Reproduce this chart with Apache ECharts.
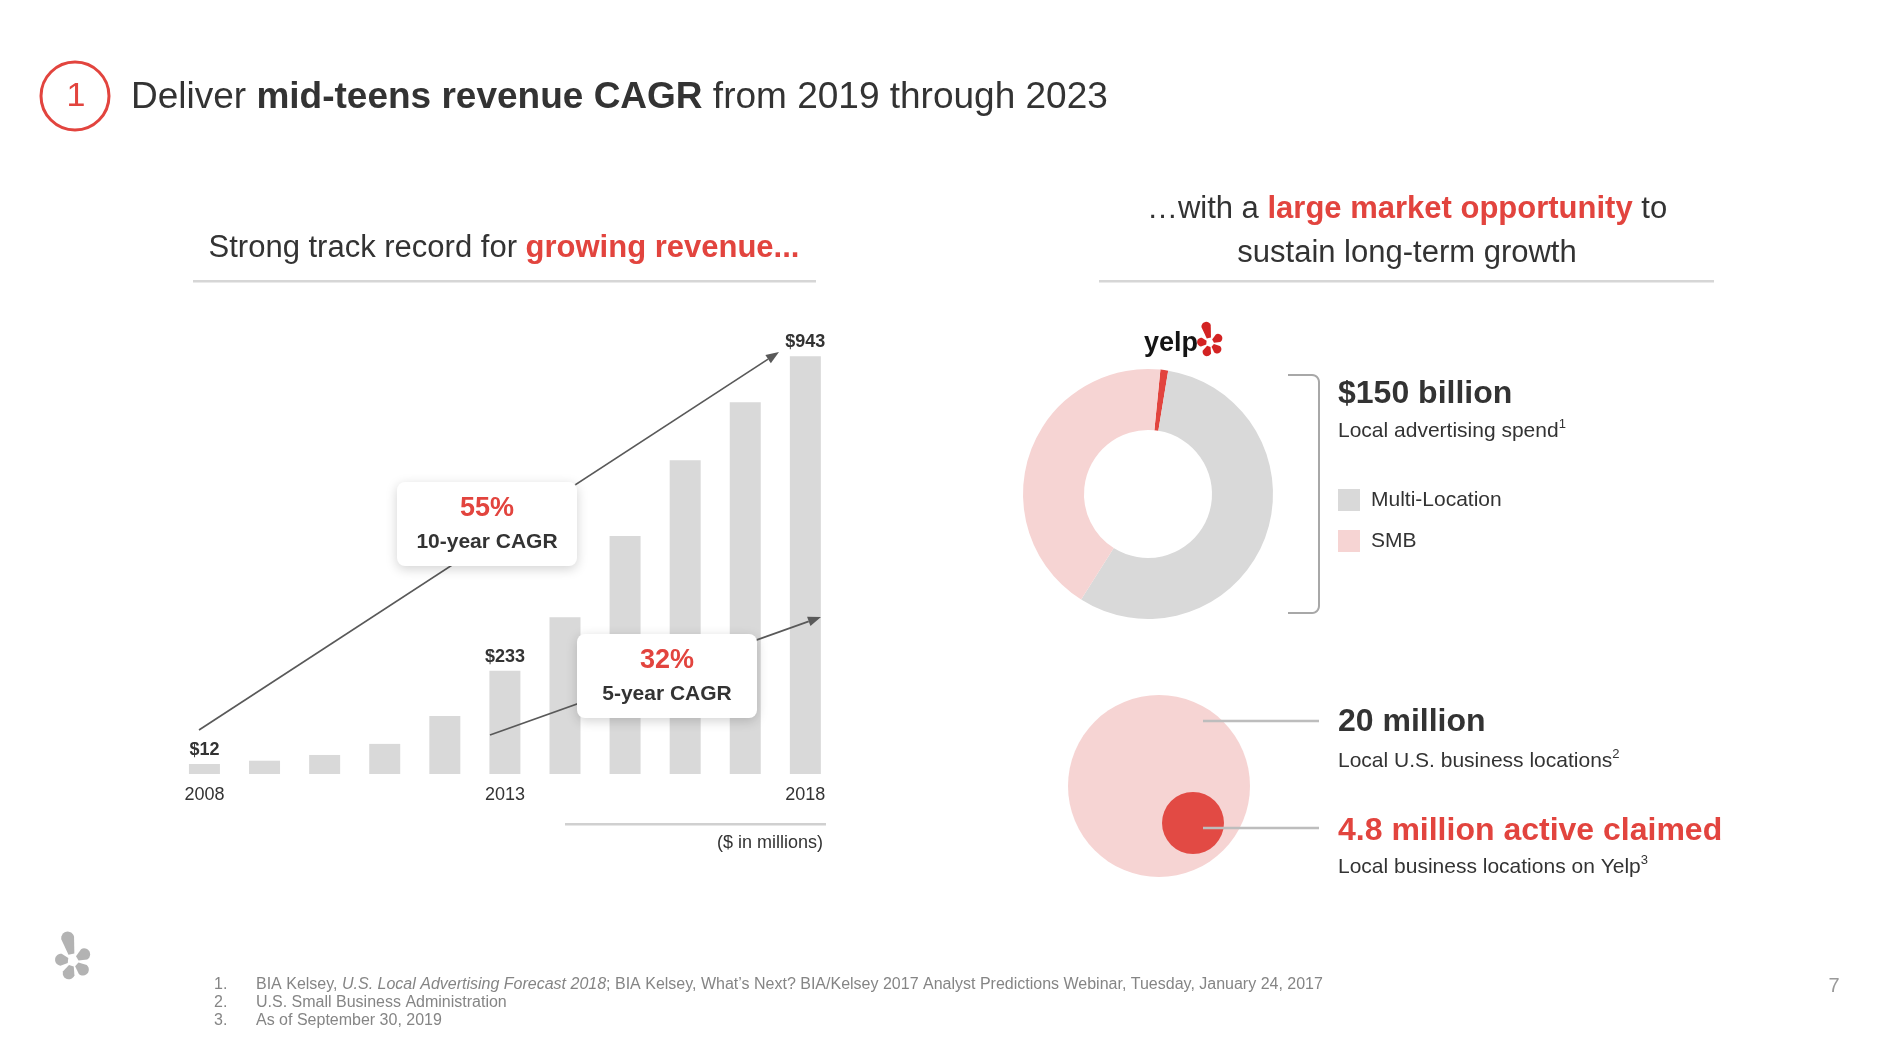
<!DOCTYPE html>
<html>
<head>
<meta charset="utf-8">
<script src="https://cdn.jsdelivr.net/npm/echarts@6/dist/echarts.min.js"></script>
<style>
html,body{margin:0;padding:0;background:#fff;}
#chart{width:1886px;height:1038px;}
</style>
</head>
<body>
<div id="chart"></div>
<script>
// ---------- data ----------
const years = ['2008','2009','2010','2011','2012','2013','2014','2015','2016','2017','2018'];
const revenue = [12, 30, 43, 68, 131, 233, 354, 537, 708, 839, 943];
const labeledYears = ['2008','2013','2018'];
const marketNames = ['Yelp','Multi-Location','SMB'];
const marketShare = [1.0, 56.4, 42.6];
const legendNames = ['Multi-Location','SMB'];
const cagrValues = ['55%','32%'];
const cagrLabels = ['10-year CAGR','5-year CAGR'];
const footnotes = [
  ['1.', '{n|BIA Kelsey, }{i|U.S. Local Advertising Forecast 2018}{n|; BIA Kelsey, What’s Next? BIA/Kelsey 2017 Analyst Predictions Webinar, Tuesday, January 24, 2017}'],
  ['2.', '{n|U.S. Small Business Administration}'],
  ['3.', '{n|As of September 30, 2019}']
];

// ---------- styles ----------
const FONT = '"Liberation Sans", Arial, Helvetica, sans-serif';
const DARK = '#333333';
const RED = '#e2443e';
const GRAY_BAR = '#d9d9d9';
const PINK = '#f6d4d3';
const FOOT = '#858585';

const chart = echarts.init(document.getElementById('chart'), null, {renderer:'canvas'});

function txt(text, x, y, o) {
  o = o || {};
  return {
    type: 'text', z: o.z || 30, silent: true,
    style: Object.assign({
      text: text, x: x, y: y,
      fill: o.fill || DARK,
      fontFamily: FONT,
      fontSize: o.size || 20,
      fontWeight: o.weight || 'normal',
      align: o.align || 'left',
      verticalAlign: o.va || 'middle'
    }, o.extra || {})
  };
}
function tok(size, fill, weight, extra) {
  return Object.assign({fontSize:size, fontFamily:FONT, fill:fill, fontWeight:weight || 'normal'}, extra || {});
}

function arrow(x1, y1, x2, y2) {
  const ang = Math.atan2(y2 - y1, x2 - x1);
  const L = 13, W = 5;
  const bx = x2 - L * Math.cos(ang), by = y2 - L * Math.sin(ang);
  return [
    {type:'line', z:10, silent:true, shape:{x1:x1, y1:y1, x2:bx, y2:by}, style:{stroke:'#595959', lineWidth:1.7}},
    {type:'polygon', z:10, silent:true, shape:{points:[[x2,y2],[bx + W*Math.sin(ang), by - W*Math.cos(ang)],[bx - W*Math.sin(ang), by + W*Math.cos(ang)]]}, style:{fill:'#595959'}}
  ];
}

function petal(cx, cy, angDeg, rIn, rOut, wIn, wOut, color, z) {
  const a = angDeg * Math.PI / 180;
  const dx = Math.sin(a), dy = -Math.cos(a);
  const px = Math.cos(a), py = Math.sin(a);
  const pts = [];
  pts.push([cx + dx*rIn - px*wIn/2, cy + dy*rIn - py*wIn/2]);
  const r = wOut / 2;
  const ox = cx + dx*(rOut - r), oy = cy + dy*(rOut - r);
  for (let t = -90; t <= 90; t += 15) {
    const tr = t * Math.PI / 180;
    pts.push([ox + r*(dx*Math.cos(tr) + px*Math.sin(tr)), oy + r*(dy*Math.cos(tr) + py*Math.sin(tr))]);
  }
  pts.push([cx + dx*rIn + px*wIn/2, cy + dy*rIn + py*wIn/2]);
  return {type:'polygon', z: z || 30, silent:true, shape:{points:pts}, style:{fill:color}};
}

function burst(cx, cy, s, color) {
  return [
    petal(cx, cy, 347, 7*s, 30*s, 6*s, 13*s, color),
    petal(cx, cy, 59, 5*s, 19*s, 5*s, 12*s, color),
    petal(cx, cy, 131, 5*s, 19*s, 5*s, 12*s, color),
    petal(cx, cy, 199, 5*s, 19*s, 5*s, 12*s, color),
    petal(cx, cy, 276, 5*s, 18*s, 5*s, 12*s, color)
  ];
}

const graphics = [];
// Header
graphics.push({type:'circle', z:30, silent:true, shape:{cx:75, cy:96, r:34}, style:{fill:'none', stroke:RED, lineWidth:3}});
graphics.push(txt('1', 76, 97, {size:34, fill:RED, align:'center'}));
graphics.push(txt('{n|Deliver }{b|mid-teens revenue CAGR}{n| from 2019 through 2023}', 131, 98, {
  size:37, extra:{rich:{ n:tok(37, DARK), b:tok(37, DARK, 'bold') }}
}));

// Left subtitle
graphics.push(txt('{n|Strong track record for }{r|growing revenue...}', 504, 248, {
  size:31, align:'center', extra:{rich:{ n:tok(31, DARK), r:tok(31, RED, 'bold') }}
}));
graphics.push({type:'rect', z:5, silent:true, shape:{x:193, y:280, width:623, height:2.5}, style:{fill:'#d6d6d6'}});

// Right subtitle
graphics.push(txt('{n|…with a }{r|large market opportunity}{n| to}\n{n|sustain long-term growth}', 1407, 231, {
  size:31, align:'center', extra:{lineHeight:44, rich:{
    n:tok(31, DARK, 'normal', {lineHeight:44}),
    r:tok(31, RED, 'bold', {lineHeight:44})
  }}
}));
graphics.push({type:'rect', z:5, silent:true, shape:{x:1099, y:280, width:615, height:2.5}, style:{fill:'#d6d6d6'}});

// CAGR arrows
arrow(199, 730, 779, 352).forEach(g => graphics.push(g));
arrow(490, 735, 821, 617).forEach(g => graphics.push(g));

// Callout boxes
const boxes = [
  {x:397, y:482, w:180, h:84},
  {x:577, y:634, w:180, h:84}
];
boxes.forEach((b, i) => {
  graphics.push({type:'rect', z:20, silent:true, shape:{x:b.x, y:b.y, width:b.w, height:b.h, r:8},
    style:{fill:'#ffffff', shadowBlur:12, shadowColor:'rgba(0,0,0,0.18)', shadowOffsetX:0, shadowOffsetY:3}});
  graphics.push(txt(cagrValues[i], b.x + b.w/2, b.y + 27, {size:27, weight:'bold', fill:RED, align:'center', z:21}));
  graphics.push(txt(cagrLabels[i], b.x + b.w/2, b.y + 60, {size:21, weight:'bold', fill:DARK, align:'center', z:21}));
});

// $ in millions
graphics.push({type:'rect', z:5, silent:true, shape:{x:565, y:823, width:261, height:2.5}, style:{fill:'#d0d0d0'}});
graphics.push(txt('($ in millions)', 823, 843, {size:18, align:'right'}));

// Yelp logo above donut
graphics.push(txt('yelp', 1144, 344, {size:27, weight:'bold', fill:'#141414'}));
burst(1210, 343, 0.72, '#d32323').forEach(g => graphics.push(g));

// Bracket
(function () {
  const pts = [[1288, 375], [1312, 375]];
  for (let t = 1; t <= 6; t++) {
    const a = -Math.PI/2 + t * (Math.PI/2) / 6;
    pts.push([1312 + 7*Math.cos(a), 382 + 7*Math.sin(a)]);
  }
  pts.push([1319, 606]);
  for (let t = 1; t <= 6; t++) {
    const a = t * (Math.PI/2) / 6;
    pts.push([1312 + 7*Math.cos(a), 606 + 7*Math.sin(a)]);
  }
  pts.push([1288, 613]);
  graphics.push({type:'polyline', z:5, silent:true, shape:{points:pts}, style:{fill:null, stroke:'#a8a8a8', lineWidth:2}});
})();

// Right texts (market)
graphics.push(txt('$150 billion', 1338, 394, {size:32, weight:'bold'}));
const supRich = {
  n: tok(21, DARK, 'normal', {lineHeight:26}),
  sup: tok(13, DARK, 'normal', {verticalAlign:'top', lineHeight:13})
};
graphics.push(txt('{n|Local advertising spend}{sup|1}', 1338, 431, {size:21, extra:{lineHeight:26, rich:supRich}}));

// Bubbles
graphics.push({type:'circle', z:6, silent:true, shape:{cx:1159, cy:786, r:91}, style:{fill:PINK}});
graphics.push({type:'circle', z:7, silent:true, shape:{cx:1193, cy:823, r:31}, style:{fill:'#e24a44'}});
graphics.push({type:'line', z:8, silent:true, shape:{x1:1203, y1:721, x2:1319, y2:721}, style:{stroke:'#bdbdbd', lineWidth:2.5}});
graphics.push({type:'line', z:8, silent:true, shape:{x1:1203, y1:828, x2:1319, y2:828}, style:{stroke:'#bdbdbd', lineWidth:2.5}});
graphics.push(txt('20 million', 1338, 722, {size:32, weight:'bold'}));
graphics.push(txt('{n|Local U.S. business locations}{sup|2}', 1338, 761, {size:21, extra:{lineHeight:26, rich:supRich}}));
graphics.push(txt('4.8 million active claimed', 1338, 831, {size:32, weight:'bold', fill:RED}));
graphics.push(txt('{n|Local business locations on Yelp}{sup|3}', 1338, 867, {size:21, extra:{lineHeight:26, rich:supRich}}));

// Footnotes
const fnY = [985, 1003, 1021];
footnotes.forEach((f, i) => {
  graphics.push(txt(f[0], 214, fnY[i], {size:16, fill:FOOT}));
  graphics.push(txt(f[1], 256, fnY[i], {size:16, fill:FOOT, extra:{rich:{
    n: tok(16, FOOT),
    i: tok(16, FOOT, 'normal', {fontStyle:'italic'})
  }}}));
});
graphics.push(txt('7', 1834, 986, {size:20, fill:'#9a9a9a', align:'center'}));

// Bottom-left logo
burst(73, 961, 1.0, '#b3b3b3').forEach(g => graphics.push(g));

const option = {
  animation: false,
  backgroundColor: '#ffffff',
  textStyle: {fontFamily: FONT},
  grid: {left: 174.4, top: 331, width: 661, height: 443, containLabel: false},
  xAxis: {
    type: 'category', data: years,
    axisLine: {show: false}, axisTick: {show: false}, splitLine: {show: false},
    axisLabel: {
      interval: function (idx, val) { return labeledYears.indexOf(val) >= 0; },
      fontSize: 18, color: DARK, margin: 12, fontFamily: FONT
    }
  },
  yAxis: {type: 'value', min: 0, max: 1000, show: false, splitLine: {show: false}},
  legend: {
    data: legendNames, orient: 'vertical', left: 1338, top: 489, padding: 0,
    icon: 'rect', itemWidth: 22, itemHeight: 22, itemGap: 19,
    selectedMode: false,
    itemStyle: {borderWidth: 0},
    textStyle: {fontSize: 21, color: DARK, fontFamily: FONT, padding: [0, 0, 0, 6]}
  },
  series: [
    {
      type: 'bar', silent: true,
      data: revenue.map((v, i) => ({value: v, label: {show: labeledYears.indexOf(years[i]) >= 0}})),
      barWidth: 31, barMinHeight: 10,
      itemStyle: {color: GRAY_BAR},
      label: {
        position: 'top', distance: 5,
        formatter: p => '$' + p.value,
        fontSize: 18, fontWeight: 'bold', color: DARK, fontFamily: FONT
      }
    },
    {
      type: 'pie', silent: true,
      center: [1148, 494], radius: [64, 125],
      startAngle: 84.3, clockwise: true,
      avoidLabelOverlap: false, minAngle: 0,
      label: {show: false}, labelLine: {show: false},
      itemStyle: {borderWidth: 0},
      emphasis: {disabled: true},
      data: marketNames.map((n, i) => ({
        name: n, value: marketShare[i],
        itemStyle: {color: [RED, GRAY_BAR, PINK][i]}
      }))
    }
  ],
  graphic: {elements: graphics}
};
chart.setOption(option);
</script>
</body>
</html>
